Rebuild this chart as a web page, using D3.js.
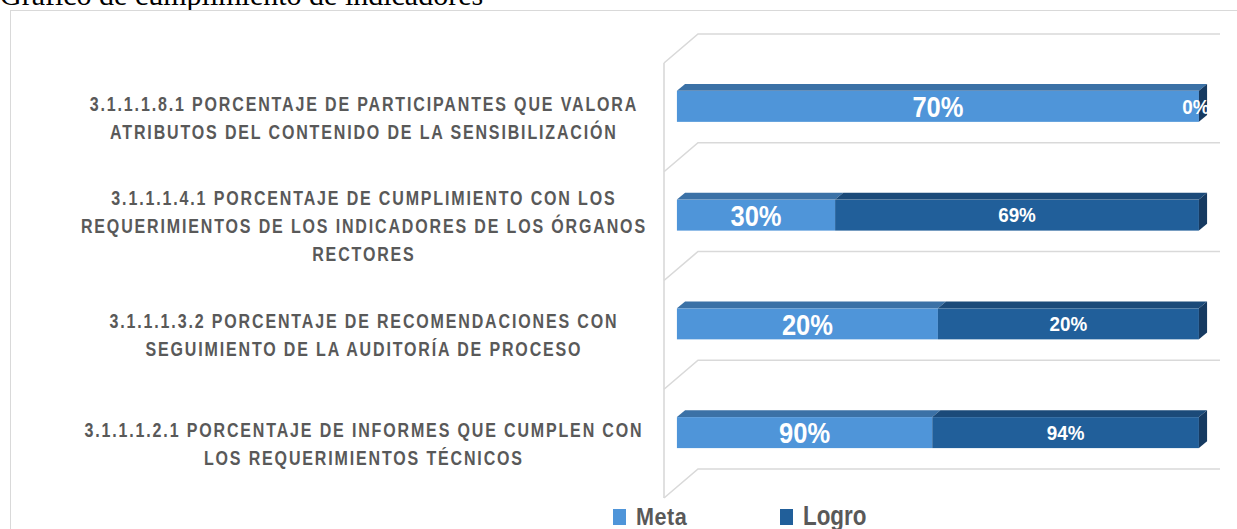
<!DOCTYPE html>
<html>
<head>
<meta charset="utf-8">
<script src="https://cdn.jsdelivr.net/npm/d3@7"></script>
<style>
  html, body { margin: 0; padding: 0; background: #ffffff; overflow: hidden; }
  svg { display: block; }
</style>
</head>
<body>
<svg id="chart" width="1237" height="529"></svg>
<script>
// ---------------- DATA ----------------
const titleText = "Gráfico de cumplimiento de indicadores";
const categories = [
  "3.1.1.1.8.1 PORCENTAJE DE PARTICIPANTES QUE VALORA\nATRIBUTOS DEL CONTENIDO DE LA SENSIBILIZACIÓN",
  "3.1.1.1.4.1 PORCENTAJE DE CUMPLIMIENTO CON LOS\nREQUERIMIENTOS DE LOS INDICADORES DE LOS ÓRGANOS\nRECTORES",
  "3.1.1.1.3.2 PORCENTAJE DE RECOMENDACIONES CON\nSEGUIMIENTO DE LA AUDITORÍA DE PROCESO",
  "3.1.1.1.2.1 PORCENTAJE DE INFORMES QUE CUMPLEN CON\nLOS REQUERIMIENTOS TÉCNICOS"
];
const seriesNames = ["Meta", "Logro"];
const meta  = [70, 30, 20, 90];
const logro = [0, 69, 20, 94];

// ---------------- STYLE / LAYOUT ----------------
const W = 1237, H = 529;
const colors = {
  Meta:  { front: "#4f95d9", top: "#3b71a6", side: "#2f5f8f" },
  Logro: { front: "#215f9a", top: "#1b4a79", side: "#163a61" }
};
const sansFont = "'Liberation Sans', Arial, sans-serif";
const gridColor = "#d9d9d9";
const DX = 34, DY = -29;
const zFront = 0.38, zBack = 0.62;
const barH = 31;

const svg = d3.select("#chart");

function condText(parent, tx, ty, sx, str, opts) {
  const t = parent.append("text")
    .attr("transform", `translate(${tx},${ty}) scale(${sx},1)`)
    .attr("x", 0).attr("y", 0)
    .attr("font-family", sansFont)
    .attr("font-weight", "bold")
    .attr("font-size", opts.size)
    .attr("fill", opts.fill)
    .attr("text-anchor", opts.anchor || "start")
    .text(str);
  if (opts.ls) t.attr("letter-spacing", opts.ls / sx);
  return t;
}

// title
svg.append("text")
  .attr("x", 0).attr("y", 5)
  .attr("font-family", "'Liberation Serif', 'Times New Roman', serif")
  .attr("font-size", 30)
  .attr("fill", "#000")
  .text(titleText);

// chart area border
svg.append("rect")
  .attr("x", 10.5).attr("y", 10.5)
  .attr("width", W).attr("height", H)
  .attr("fill", "none")
  .attr("stroke", "#d9d9d9")
  .attr("stroke-width", 1);

// scales (front plane)
const x = d3.scaleLinear().domain([0, 1]).range([664, 1186]);
const y = d3.scaleBand().domain(categories).range([63, 498]).paddingInner(0).paddingOuter(0);
const step = y.step();
const P = (px, py, z) => [px + z * DX, py + z * DY];

// ---------------- GRID ----------------
const gridG = svg.append("g").attr("fill", "none").attr("stroke", gridColor).attr("stroke-width", 1.6);
gridG.append("line")
  .attr("x1", x(0)).attr("y1", y.range()[0])
  .attr("x2", x(0)).attr("y2", y.range()[1]);
const boundaries = categories.map(c => y(c)).concat([y(categories[categories.length - 1]) + step]);
boundaries.forEach(b => {
  const a = P(x(0), b, 0), m = P(x(0), b, 1), e = P(x(1), b, 1);
  gridG.append("path").attr("d", `M${a[0]},${a[1]}L${m[0]},${m[1]}L${e[0]},${e[1]}`);
});

// ---------------- BARS (100% stacked) ----------------
const table = categories.map((c, i) => ({ cat: c, Meta: meta[i], Logro: logro[i] }));
const stacked = d3.stack().keys(seriesNames).offset(d3.stackOffsetExpand)(table);

const barsG = svg.append("g");
categories.forEach((cat, i) => {
  const cy = y(cat) + step / 2;
  const yTop = cy - barH / 2, yBot = cy + barH / 2;
  const g = barsG.append("g");
  const segs = stacked.map(s => ({ key: s.key, v0: s[i][0], v1: s[i][1], raw: s[i].data[s.key] }));

  segs.forEach(s => {
    const a = P(x(s.v0), yTop, zFront), b = P(x(s.v1), yBot, zFront);
    g.append("rect")
      .attr("x", a[0]).attr("y", a[1])
      .attr("width", Math.max(0, b[0] - a[0])).attr("height", b[1] - a[1])
      .attr("fill", colors[s.key].front);
  });
  segs.forEach(s => {
    if (s.v1 - s.v0 <= 0) return;
    const p1 = P(x(s.v0), yTop, zFront), p2 = P(x(s.v1), yTop, zFront),
          p3 = P(x(s.v1), yTop, zBack),  p4 = P(x(s.v0), yTop, zBack);
    g.append("path").attr("d", `M${p1}L${p2}L${p3}L${p4}Z`).attr("fill", colors[s.key].top);
  });
  const last = segs[segs.length - 1];
  const q1 = P(x(last.v1), yTop, zFront), q2 = P(x(last.v1), yTop, zBack),
        q3 = P(x(last.v1), yBot, zBack),  q4 = P(x(last.v1), yBot, zFront);
  g.append("path").attr("d", `M${q1}L${q2}L${q3}L${q4}Z`).attr("fill", colors[last.key].side);
  segs.forEach(s => {
    const mid = P(x((s.v0 + s.v1) / 2), cy, zFront);
    const isMeta = s.key === "Meta";
    const zeroShift = (s.v1 - s.v0 <= 0) ? -3 : 0;
    condText(g, mid[0] + zeroShift, mid[1] + (isMeta ? 10.8 : 7.3), isMeta ? 0.85 : 0.92, s.raw + "%",
      { size: isMeta ? 30 : 20.5, fill: "#ffffff", anchor: "middle" });
  });
});

// ---------------- CATEGORY LABELS ----------------
const labelsG = svg.append("g");
const labSize = 20, labSx = 0.8, targetW = 566;
const allLines = categories.flatMap(c => c.split("\n"));
const probe = labelsG.append("text").attr("x", 0).attr("y", -100)
  .attr("font-family", sansFont).attr("font-weight", "bold").attr("font-size", labSize);
let widest = "", widestW = 0;
allLines.forEach(l => { probe.text(l); const w = probe.node().getComputedTextLength(); if (w > widestW) { widestW = w; widest = l; } });
probe.remove();
const ls = Math.max(0, (targetW - widestW * labSx) / widest.length);

const labelCx = 363, lineH = 28;
categories.forEach(cat => {
  const lines = cat.split("\n");
  const cy = y(cat) + step / 2;
  lines.forEach((l, k) => {
    condText(labelsG, labelCx + ls / 2, cy + (k - (lines.length - 1) / 2) * lineH + 7.2, labSx, l,
      { size: labSize, fill: "#595959", anchor: "middle", ls: ls });
  });
});

// ---------------- LEGEND ----------------
const legend = [
  { name: seriesNames[0], sx: 613, tx: 636, size: 24, scale: 0.9, lsp: 0.5 },
  { name: seriesNames[1], sx: 780, tx: 803, size: 28, scale: 0.8, lsp: 0 }
];
const legG = svg.append("g");
legend.forEach(d => {
  legG.append("rect")
    .attr("x", d.sx).attr("y", 509).attr("width", 13).attr("height", 16)
    .attr("fill", colors[d.name].front);
  condText(legG, d.tx, 525, d.scale, d.name, { size: d.size, fill: "#595959", ls: d.lsp });
});
</script>
</body>
</html>
